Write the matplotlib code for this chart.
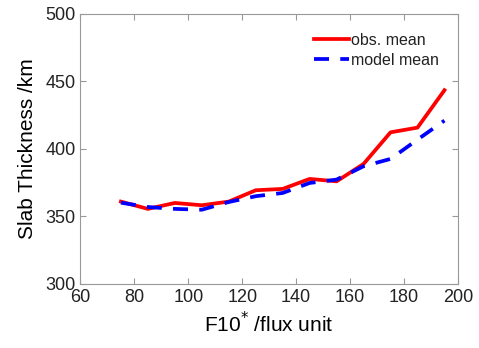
import matplotlib
matplotlib.use("Agg")
import matplotlib.pyplot as plt

f10 = [75, 85, 95, 105, 115, 125, 135, 145, 155, 165, 175, 185, 195]
obs_mean = [361, 355.6, 360, 358.3, 361, 369.4, 370.4, 377.8, 376, 388.9, 412.3, 415.8, 443.5]
model_mean = [360.2, 357, 355.6, 355, 360.7, 365, 367.4, 374.8, 377.3, 387.2, 392.6, 406.9, 421]

plt.rcParams["font.family"] = ["Liberation Sans", "DejaVu Sans"]
plt.rcParams["text.color"] = "#222222"

fig = plt.figure(figsize=(4.79, 3.48), dpi=100)
ax = fig.add_axes([0.168, 0.184, 0.788, 0.776])

ax.plot(f10, obs_mean, color="red", lw=2.7, label="obs. mean")
ax.plot(f10, model_mean, color="blue", lw=2.7, ls=(0, (4, 3)), label="model mean")

ax.set_xlim(60, 200)
ax.set_ylim(300, 500)
ax.set_xticks(range(60, 201, 20))
ax.set_yticks(range(300, 501, 50))
ax.tick_params(direction="in", top=True, right=True, labelsize=13, color="#999999",
               labelcolor="#222222", length=4)
for s in ax.spines.values():
    s.set_color("#999999")

ax.set_xlabel("F10$^{*}$ /flux unit", fontsize=15)
ax.set_ylabel("Slab Thickness /km", fontsize=15, labelpad=6)

ax.legend(loc="upper right", frameon=False, fontsize=11.5, handlelength=2.2,
          handletextpad=0.1, labelspacing=0.3, borderaxespad=0.8)

fig.savefig("out.png", dpi=100)
